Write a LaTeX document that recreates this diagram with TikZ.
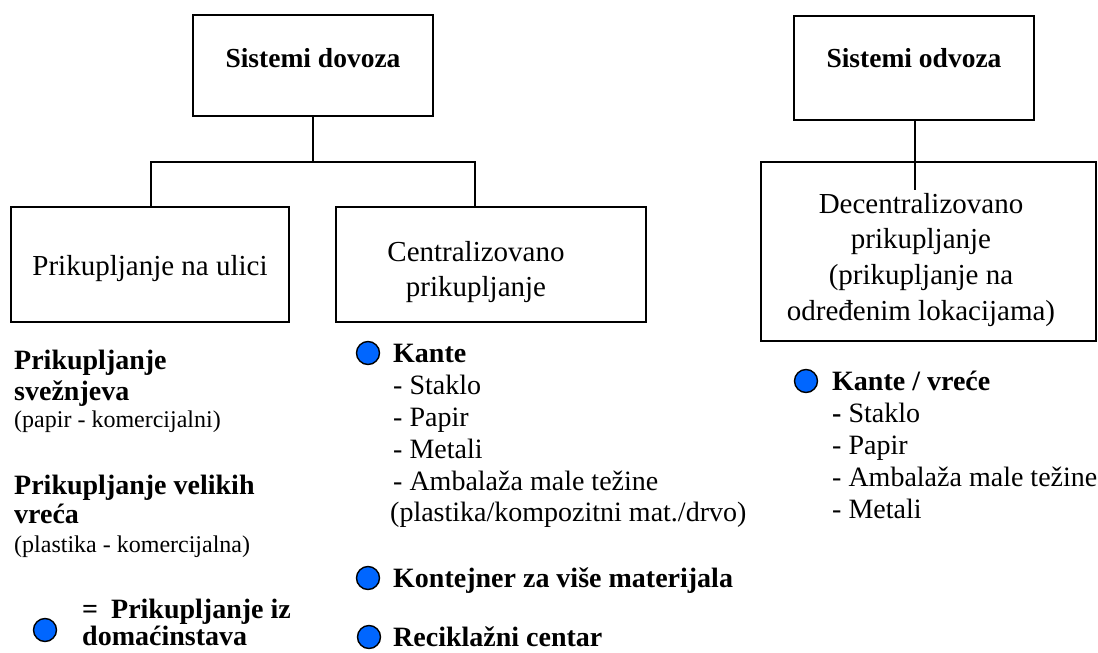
\documentclass[tikz,border=0pt]{standalone}
\usepackage{fontspec}
\setmainfont{Liberation Serif}
\definecolor{dotblue}{RGB}{0,102,255}
\begin{document}
\begin{tikzpicture}[x=1pt,y=-1pt,
  box/.style={draw, line width=2.2pt, inner sep=0pt, outer sep=0pt},
  conn/.style={line width=1.6pt},
  dot/.style={circle, draw, line width=1.4pt, fill=dotblue, minimum size=23pt, inner sep=0pt},
  boxtxt/.style={anchor=base, inner sep=0pt, font=\fontsize{29}{35}\selectfont},
  boxhead/.style={anchor=base, inner sep=0pt, font=\fontsize{27.5}{33}\selectfont\bfseries},
  item/.style={anchor=base west, inner sep=0pt, font=\fontsize{28}{32}\selectfont},
  itemb/.style={item, font=\fontsize{28}{32}\selectfont\bfseries},
  small/.style={anchor=base west, inner sep=0pt, font=\fontsize{24}{29}\selectfont}]
\useasboundingbox (0,0) rectangle (1098,653);

% boxes
\node[box, minimum width=240pt, minimum height=101pt] (dov) at (313,65.5) {};
\node[box, minimum width=278pt, minimum height=115pt] (ulica) at (150,264.5) {};
\node[box, minimum width=310pt, minimum height=115pt] (centr) at (491,264.5) {};
\node[box, minimum width=240pt, minimum height=104pt] (odv) at (914,68) {};
\node[box, minimum width=335pt, minimum height=179pt] (decen) at (928.5,251.5) {};

% box texts
\node[boxhead] (tdov) at (313,67) {Sistemi dovoza};
\node[boxhead] (todv) at (914,67) {Sistemi odvoza};
\node[boxtxt] (tul) at (150,275) {Prikupljanje na ulici};
\node[boxtxt] (tc1) at (476,261) {Centralizovano};
\node[boxtxt] (tc2) at (476,296) {prikupljanje};
\node[boxtxt] (td1) at (921,213) {Decentralizovano};
\node[boxtxt] (td2) at (921,248) {prikupljanje};
\node[boxtxt] (td3) at (921,284) {(prikupljanje na};
\node[boxtxt] (td4) at (921,320) {određenim lokacijama)};

% connectors
\coordinate (j1) at (313,162);
\coordinate (jl) at (151,162);
\coordinate (jr) at (475,162);
\coordinate (odvend) at (915,190);
\draw[conn] (dov.south) -- (j1);
\draw[conn] (ulica.north -| jl) -- (jl) -- (jr) -- (centr.north -| jr);
\draw[conn] (odv.south -| odvend) -- (odvend);

% left column
\node[itemb] (l1) at (14,369) {Prikupljanje};
\node[itemb] (l2) at (14,400) {svežnjeva};
\node[small] (l3) at (14,427) {(papir - komercijalni)};
\node[itemb] (l4) at (14,494) {Prikupljanje velikih};
\node[itemb] (l5) at (14,523) {vreća};
\node[small] (l6) at (14,552) {(plastika - komercijalna)};
\node[dot] (ld) at (45,630) {};
\node[itemb] (l7) at (82,618) {=\hspace{13pt}Prikupljanje iz};
\node[itemb] (l8) at (82,645) {domaćinstava};

% middle column
\node[dot] (md1) at (368,353) {};
\node[itemb] (m1) at (393,362) {Kante};
\node[item] (m2) at (393,394) {- Staklo};
\node[item] (m3) at (393,426) {- Papir};
\node[item] (m4) at (393,458) {- Metali};
\node[item] (m5) at (393,490) {- Ambalaža male težine};
\node[item] (m6) at (390,521) {(plastika/kompozitni mat./drvo)};
\node[dot] (md2) at (368,578) {};
\node[itemb] (m7) at (393,587) {Kontejner za više materijala};
\node[dot] (md3) at (369,637) {};
\node[itemb] (m8) at (393,646) {Reciklažni centar};

% right column
\node[dot] (rd1) at (806,381) {};
\node[itemb] (r1) at (832,390) {Kante / vreće};
\node[item] (r2) at (832,422) {\textbf{-} Staklo};
\node[item] (r3) at (832,454) {- Papir};
\node[item] (r4) at (832,486) {- Ambalaža male težine};
\node[item] (r5) at (832,518) {- Metali};
\end{tikzpicture}
\end{document}
